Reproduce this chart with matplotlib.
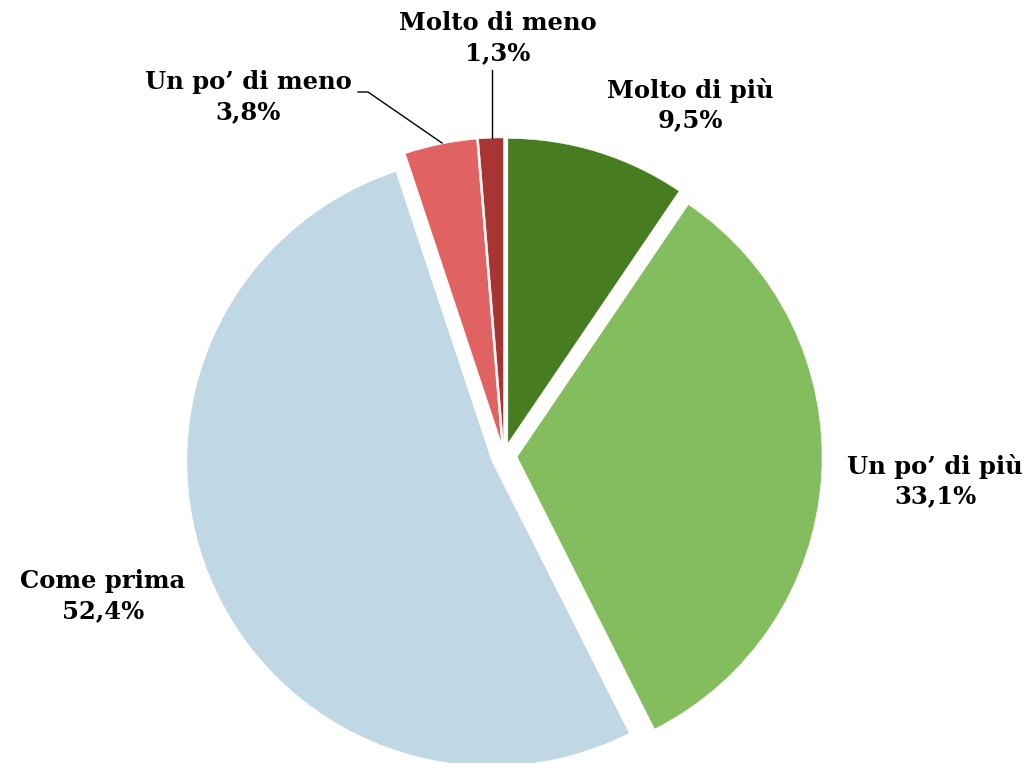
import matplotlib.pyplot as plt

categories = ["Molto di più", "Un po’ di più", "Come prima", "Un po’ di meno", "Molto di meno"]
values = [9.5, 33.1, 52.4, 3.8, 1.3]
value_labels = ["9,5%", "33,1%", "52,4%", "3,8%", "1,3%"]
colors = ["#477c20", "#84bd5e", "#c0d8e4", "#e06262", "#a83434"]

W, H = 1031, 763
R = 305.0          # pie radius in pixels
CX, CY = 504, 456  # pie centre in pixels (from top-left)

fig = plt.figure(figsize=(W / 100, H / 100), dpi=100)
ax = fig.add_axes([0, 0, 1, 1])

ax.pie(values, colors=colors, startangle=90, counterclock=False,
       explode=[0.043] * len(values), radius=1,
       wedgeprops=dict(edgecolor="white", linewidth=0.4))

# pie() resets the limits, so set them afterwards
ax.set_aspect("auto")
ax.set_xlim(-CX / R, (W - CX) / R)
ax.set_ylim(-(H - CY) / R, CY / R)
ax.axis("off")

# label positions in pixels (centre of the two-line block)
label_pos = [(690, 105), (935, 481), (103, 596), (248, 97), (498, 38)]
font = dict(family="DejaVu Serif", weight="bold", size=17.5)
for cat, lab, (px, py) in zip(categories, value_labels, label_pos):
    fig.text(px / W, 1 - py / H, cat + "\n" + lab, ha="center", va="center",
             linespacing=1.3, **font)

# leader lines
def px2d(px, py):
    return (px - CX) / R, (CY - py) / R

pts = [px2d(358, 92), px2d(368, 92), px2d(442, 143)]
ax.plot([p[0] for p in pts], [p[1] for p in pts], color="black", lw=1)
pts = [px2d(492, 70), px2d(492, 138)]
ax.plot([p[0] for p in pts], [p[1] for p in pts], color="black", lw=1)

fig.savefig("out.png", dpi=100)
